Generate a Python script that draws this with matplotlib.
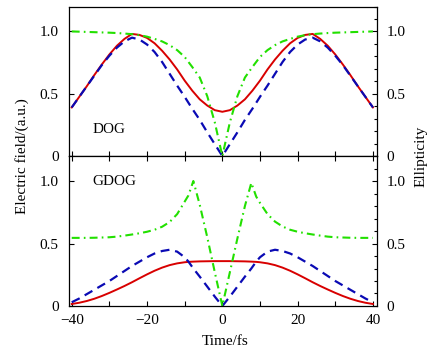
import matplotlib
matplotlib.use("Agg")
import matplotlib.pyplot as plt
from matplotlib.ticker import MultipleLocator, FixedLocator

plt.rcParams['font.family'] = ['Liberation Serif', 'DejaVu Serif']
plt.rcParams['font.size'] = 11

# DOG panel data (time in fs)
t_dog = [-40, -38, -36, -34, -32, -30, -28, -26, -24, -22, -20, -18, -16, -14, -12, -10, -8, -6, -4, -2, 0,
         2, 4, 6, 8, 10, 12, 14, 16, 18, 20, 22, 24, 26, 28, 30, 32, 34, 36, 38, 40]
field_dog = [0.39, 0.475, 0.56, 0.65, 0.735, 0.815, 0.885, 0.94, 0.98, 0.972, 0.948, 0.905, 0.845, 0.775,
             0.695, 0.605, 0.525, 0.455, 0.405, 0.368, 0.355,
             0.368, 0.405, 0.455, 0.525, 0.605, 0.695, 0.775, 0.845, 0.905, 0.948, 0.972, 0.98, 0.94,
             0.885, 0.815, 0.735, 0.65, 0.56, 0.475, 0.39]
gate_dog = [0.39, 0.475, 0.56, 0.645, 0.73, 0.805, 0.87, 0.92, 0.95, 0.935, 0.895, 0.835, 0.755, 0.66,
            0.565, 0.475, 0.38, 0.29, 0.19, 0.095, 0.0,
            0.095, 0.19, 0.29, 0.38, 0.475, 0.565, 0.66, 0.755, 0.835, 0.895, 0.935, 0.95, 0.92,
            0.87, 0.805, 0.73, 0.645, 0.56, 0.475, 0.39]
ellip_dog = [1.0, 0.998, 0.996, 0.994, 0.992, 0.99, 0.987, 0.983, 0.978, 0.97, 0.958, 0.94, 0.92, 0.89,
             0.85, 0.795, 0.715, 0.63, 0.48, 0.27, 0.0,
             0.27, 0.48, 0.63, 0.715, 0.795, 0.85, 0.89, 0.92, 0.94, 0.958, 0.97, 0.978, 0.983,
             0.987, 0.99, 0.992, 0.994, 0.996, 0.998, 1.0]

# GDOG panel data
t_gdog = [-40, -38, -36, -34, -32, -30, -28, -26, -24, -22, -20, -18, -16, -14, -12, -10, -9, -7.7, -6, -4, -2, 0,
          2, 4, 6, 7.7, 9, 10, 12, 14, 16, 18, 20, 22, 24, 26, 28, 30, 32, 34, 36, 38, 40]
field_gdog = [0.016, 0.026, 0.04, 0.058, 0.08, 0.105, 0.132, 0.16, 0.19, 0.222, 0.253, 0.282, 0.307, 0.327,
              0.341, 0.35, 0.353, 0.355, 0.357, 0.358, 0.359, 0.359,
              0.359, 0.358, 0.357, 0.355, 0.353, 0.35, 0.341, 0.327, 0.307, 0.282, 0.253, 0.222, 0.19,
              0.16, 0.132, 0.105, 0.08, 0.058, 0.04, 0.026, 0.016]
gate_gdog = [0.03, 0.06, 0.095, 0.13, 0.165, 0.2, 0.24, 0.28, 0.32, 0.355, 0.39, 0.42, 0.44, 0.45,
             0.435, 0.39, 0.355, 0.30, 0.235, 0.155, 0.075, 0.0,
             0.075, 0.155, 0.235, 0.30, 0.355, 0.39, 0.435, 0.45, 0.44, 0.42, 0.39, 0.355, 0.32,
             0.28, 0.24, 0.2, 0.165, 0.13, 0.095, 0.06, 0.03]
ellip_gdog = [0.545, 0.545, 0.545, 0.546, 0.548, 0.55, 0.555, 0.563, 0.572, 0.582, 0.594, 0.61, 0.634, 0.672,
              0.735, 0.835, 0.885, 1.0, 0.81, 0.55, 0.27, 0.0,
              0.27, 0.54, 0.80, 0.985, 0.875, 0.825, 0.735, 0.675, 0.636, 0.61, 0.594, 0.582, 0.572,
              0.563, 0.555, 0.55, 0.548, 0.546, 0.545, 0.545, 0.545]

red = '#d80000'
blue = '#0a0ab4'
green = '#22e000'

fig = plt.figure(figsize=(4.45, 3.54), dpi=100)
ax1 = fig.add_axes([0.154, 0.5593, 0.6925, 0.4223])
ax2 = fig.add_axes([0.154, 0.1356, 0.6925, 0.4237])

panels = [(ax1, t_dog, field_dog, gate_dog, ellip_dog, 'DOG', 0.21),
          (ax2, t_gdog, field_gdog, gate_gdog, ellip_gdog, 'GDOG', 1.0)]

for ax, t, f, g, e, name, ytxt in panels:
    ax.plot(t, f, color=red, lw=1.4)
    ax.plot(t, g, color=blue, lw=1.6, linestyle=(0, (4, 2.6)))
    ax.plot(t, e, color=green, lw=1.5, linestyle=(0, (3.8, 2.0, 0.8, 2.0)))
    ax.text(-34.6, ytxt, name, fontsize=11, ha='left', va='center')

    ax.set_xlim(-40.85, 41.0)
    ax.set_ylim(0, 1.2)
    ax.yaxis.set_major_locator(FixedLocator([0, 0.5, 1.0]))
    ax.yaxis.set_minor_locator(MultipleLocator(0.1))
    ax.set_yticklabels(['0', '0.5', '1.0'])
    ax.xaxis.set_major_locator(MultipleLocator(20))
    ax.xaxis.set_minor_locator(MultipleLocator(10))
    for s in ax.spines.values():
        s.set_linewidth(0.9)
    # inward ticks, labels on both sides, minor only on the right
    ax.tick_params(which='both', direction='in', width=0.8, labelsize=11,
                   left=True, right=True, labelleft=True, labelright=True)
    ax.tick_params(which='major', length=3.5)
    ax.tick_params(which='minor', length=2.2, left=False)
    ax.tick_params(axis='x', which='minor', length=3.5)
    ax.tick_params(axis='y', which='major', pad=7)

ax1.tick_params(axis='x', which='both', top=False, bottom=True, labelbottom=False)
ax2.tick_params(axis='x', which='both', top=True, bottom=True, labelbottom=True, pad=6)

fig.text(0.049, 0.559, 'Electric field/(a.u.)', rotation=90, ha='center', va='center', fontsize=11)
fig.text(0.946, 0.558, 'Ellipticity', rotation=90, ha='center', va='center', fontsize=11)
fig.text(0.506, 0.035, 'Time/fs', ha='center', va='center', fontsize=11)

fig.savefig('out.png', dpi=100)
